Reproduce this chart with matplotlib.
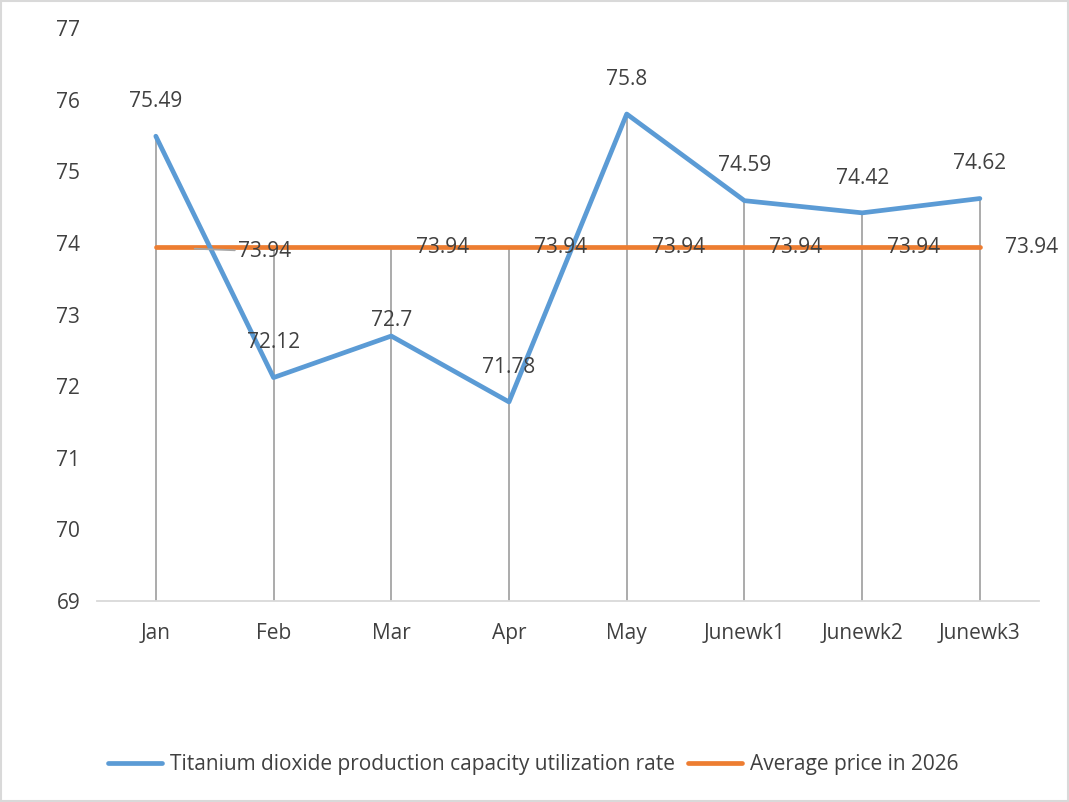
import matplotlib
matplotlib.use("Agg")
import matplotlib.pyplot as plt
from matplotlib.lines import Line2D

categories = ["Jan", "Feb", "Mar", "Apr", "May", "Junewk1", "Junewk2", "Junewk3"]
utilization = [75.49, 72.12, 72.7, 71.78, 75.8, 74.59, 74.42, 74.62]
average = [73.94] * 8
y_ticks = [69, 70, 71, 72, 73, 74, 75, 76, 77]

plt.rcParams['font.family'] = ['Open Sans', 'DejaVu Sans']
BLUE = "#5B9BD5"
ORANGE = "#ED7D31"
TXT = "#404040"

fig = plt.figure(figsize=(10.69, 8.02), dpi=100)
ax = fig.add_axes([0.0907, 0.2506, 0.881, 0.7144])
x = list(range(len(categories)))

# drop lines
tops = [max(a, b) for a, b in zip(utilization, average)]
ax.vlines(x, 69, tops, color="#A5A5A5", linewidth=1.3, zorder=1)

ax.plot(x, average, color=ORANGE, linewidth=3.4, solid_capstyle="round", zorder=2,
        label="Average price in 2026")
ax.plot(x, utilization, color=BLUE, linewidth=3.4, solid_capstyle="round", zorder=3,
        label="Titanium dioxide production capacity utilization rate")

fs = 15
for i, v in enumerate(utilization):
    dy = 25 if i != 2 else 11
    ax.annotate(f"{v:g}", (i, v), xytext=(0, dy), textcoords="offset points",
                ha="center", va="center", fontsize=fs, color=TXT, zorder=5)

for i, v in enumerate(average):
    if i == 0:
        ax.annotate(f"{v:g}", (i, v), xytext=(78, -3), textcoords="offset points",
                    ha="center", va="center", fontsize=fs, color=TXT, zorder=5,
                    arrowprops=dict(arrowstyle="-", color="#A5A5A5", lw=1.3,
                                    shrinkA=0, shrinkB=28))
    elif i == 1:
        continue
    else:
        ax.annotate(f"{v:g}", (i, v), xytext=(18, 0), textcoords="offset points",
                    ha="left", va="center", fontsize=fs, color=TXT, zorder=5)

ax.set_xlim(-0.5, len(categories) - 0.5)
ax.set_ylim(69, 77)
ax.set_yticks(y_ticks)
ax.set_yticklabels([str(t) for t in y_ticks])
ax.set_xticks(x)
ax.set_xticklabels(categories)
ax.tick_params(axis="both", length=0, labelsize=fs, labelcolor=TXT)
ax.tick_params(axis="y", pad=12)
ax.tick_params(axis="x", pad=16)
for s in ["left", "right", "top"]:
    ax.spines[s].set_visible(False)
ax.spines["bottom"].set_color("#D9D9D9")
ax.spines["bottom"].set_linewidth(1.3)

handles = [Line2D([], [], color=BLUE, lw=3.4, solid_capstyle="round"),
           Line2D([], [], color=ORANGE, lw=3.4, solid_capstyle="round")]
labels = ["Titanium dioxide production capacity utilization rate", "Average price in 2026"]
fig.legend(handles, labels, loc="center", bbox_to_anchor=(0.499, 0.047), ncol=2,
           frameon=False, fontsize=fs, labelcolor=TXT, handlelength=2.6,
           handletextpad=0.4, columnspacing=0.6)

fig.patches.append(plt.Rectangle((0.001, 0.001), 0.998, 0.998, transform=fig.transFigure,
                                 fill=False, edgecolor="#D9D9D9", linewidth=1.5))
fig.savefig("out.png", dpi=100, facecolor="white")
